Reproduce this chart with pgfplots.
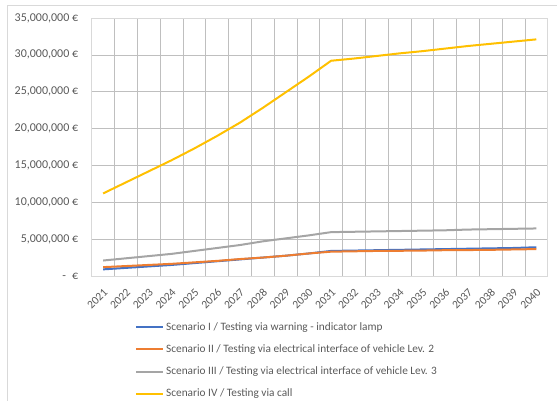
\documentclass[border=0pt]{standalone}
\usepackage{fontspec}
\setmainfont{Carlito}
\usepackage{pgfplots}
\pgfplotsset{compat=1.18}
\definecolor{sblue}{HTML}{4472C4}
\definecolor{sorange}{HTML}{ED7D31}
\definecolor{sgray}{HTML}{A5A5A5}
\definecolor{syellow}{HTML}{FFC000}
\definecolor{txt}{HTML}{595959}
\definecolor{grid}{HTML}{D9D9D9}
\begin{document}
\begin{tikzpicture}
\begin{axis}[
  name=ax,
  at={(0,0)}, anchor=south west,
  scale only axis,
  width=456pt, height=258pt,
  xmin=-0.5, xmax=19.5,
  ymin=0, ymax=35000000,
  xtick={-0.5,0.5,1.5,2.5,3.5,4.5,5.5,6.5,7.5,8.5,9.5,10.5,11.5,12.5,13.5,14.5,15.5,16.5,17.5,18.5,19.5},
  xticklabels={},
  xmajorgrids=true,
  extra x ticks={0,1,2,3,4,5,6,7,8,9,10,11,12,13,14,15,16,17,18,19},
  extra x tick labels={2021,2022,2023,2024,2025,2026,2027,2028,2029,2030,2031,2032,2033,2034,2035,2036,2037,2038,2039,2040},
  extra x tick style={grid=none, major tick length=0pt},
  ytick={0,5000000,10000000,15000000,20000000,25000000,30000000,35000000},
  yticklabels={-\enspace€,{5,000,000 €},{10,000,000 €},{15,000,000 €},{20,000,000 €},{25,000,000 €},{30,000,000 €},{35,000,000 €}},
  ymajorgrids=true,
  grid style={grid, line width=0.6pt},
  axis line style={grid, line width=0.6pt},
  major tick length=0pt,
  tick style={draw=none},
  scaled y ticks=false,
  ticklabel style={font=\fontsize{11.5}{13}\selectfont, text=txt},
  yticklabel style={font=\fontsize{12}{14}\selectfont, xshift=-10pt},
  xticklabel style={xshift=5pt, yshift=-3pt, rotate=45, anchor=east},
  xticklabel shift=9pt,
  legend style={at={(0.095,-0.172)}, anchor=north west, draw=none, fill=none,
    font=\fontsize{11.3}{13}\selectfont, text=txt, row sep=8.8pt, inner sep=0pt},
  legend cell align=left,
  legend image code/.code={\draw[#1, line width=2pt] (0pt,0pt) -- (27pt,0pt);},
  every axis plot/.append style={line width=2pt, no markers},
]
\addplot[sblue] coordinates {(0,0.9e6)(1,1.1e6)(2,1.3e6)(3,1.5e6)(4,1.75e6)(5,2.0e6)(6,2.25e6)(7,2.5e6)(8,2.75e6)(9,3.05e6)(10,3.4e6)(11,3.45e6)(12,3.5e6)(13,3.55e6)(14,3.6e6)(15,3.65e6)(16,3.7e6)(17,3.75e6)(18,3.8e6)(19,3.9e6)};
\addlegendentry{Scenario I / Testing via warning - indicator lamp}
\addplot[sorange] coordinates {(0,1.2e6)(1,1.35e6)(2,1.5e6)(3,1.65e6)(4,1.85e6)(5,2.05e6)(6,2.3e6)(7,2.5e6)(8,2.75e6)(9,3.05e6)(10,3.3e6)(11,3.35e6)(12,3.4e6)(13,3.42e6)(14,3.45e6)(15,3.5e6)(16,3.52e6)(17,3.55e6)(18,3.6e6)(19,3.65e6)};
\addlegendentry{Scenario II / Testing via electrical interface of vehicle Lev. 2}
\addplot[sgray] coordinates {(0,2.1e6)(1,2.4e6)(2,2.7e6)(3,3.0e6)(4,3.4e6)(5,3.8e6)(6,4.2e6)(7,4.7e6)(8,5.1e6)(9,5.5e6)(10,5.95e6)(11,6.0e6)(12,6.05e6)(13,6.1e6)(14,6.15e6)(15,6.2e6)(16,6.3e6)(17,6.35e6)(18,6.4e6)(19,6.45e6)};
\addlegendentry{Scenario III / Testing via electrical interface of vehicle Lev. 3}
\addplot[syellow] coordinates {(0,11.2e6)(1,12.7e6)(2,14.2e6)(3,15.7e6)(4,17.3e6)(5,19.0e6)(6,20.8e6)(7,22.8e6)(8,24.9e6)(9,27.0e6)(10,29.2e6)(11,29.5e6)(12,29.85e6)(13,30.2e6)(14,30.5e6)(15,30.85e6)(16,31.2e6)(17,31.5e6)(18,31.8e6)(19,32.1e6)};
\addlegendentry{Scenario IV / Testing via call}
\end{axis}
\draw[grid, line width=0.8pt] ([shift={(-84.7pt,-125pt)}]ax.south west) -- ([shift={(-84.7pt,271pt)}]ax.south west) -- ([shift={(465.3pt,271pt)}]ax.south west);
\pgfresetboundingbox
\useasboundingbox ([shift={(-91.7pt,-125pt)}]ax.south west) rectangle ([shift={(465.3pt,276pt)}]ax.south west);
\end{tikzpicture}
\end{document}
